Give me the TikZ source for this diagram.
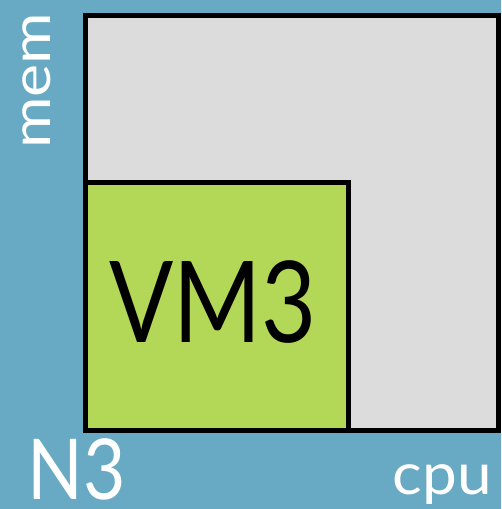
\documentclass[tikz,border=0pt]{standalone}
\usepackage{fontspec}
\setmainfont{Lato}
\definecolor{nodeblue}{HTML}{68A9C4}
\definecolor{capgray}{HTML}{DCDCDC}
\definecolor{vmgreen}{HTML}{B3D757}
\tikzset{
    capbox/.style={draw=black, line width=5pt},
    axislabel/.style={text=white, inner sep=0pt, font=\fontsize{54}{54}\selectfont},
}
\begin{document}
\begin{tikzpicture}[x=1pt, y=-1pt]
        % background
        \fill[nodeblue] (0,0) rectangle (501,509);
        \useasboundingbox (0,0) rectangle (501,509);
        % define corners
        \coordinate (O)  at (85.5, 430);
        \coordinate (C)  at (498.5, 15.5);
        \coordinate (V)  at (348.5, 182.5);
        % capacity and vm
        \draw[capbox, fill=capgray] (O) rectangle (C);
        \draw[capbox, fill=vmgreen] (O) rectangle (V);
        \node[anchor=base, inner sep=0pt, font=\fontsize{113}{113}\selectfont] (vm) at (213, 342) {\scalebox{0.84}[1]{VM3}};
        % labels
        \node[axislabel, anchor=base west, text depth=0pt, font=\fontsize{84}{84}\selectfont] (n) at (27, 499) {\scalebox{0.87}[1]{N3}};
        \node[axislabel, anchor=base east, font=\fontsize{58}{58}\selectfont] (cpu) at (492, 494) {\scalebox{1.07}[1]{cpu}};
        \node[axislabel, anchor=base west, rotate=90] (mem) at (50, 149) {\scalebox{1.16}[1]{mem}};
    \end{tikzpicture}
\end{document}
